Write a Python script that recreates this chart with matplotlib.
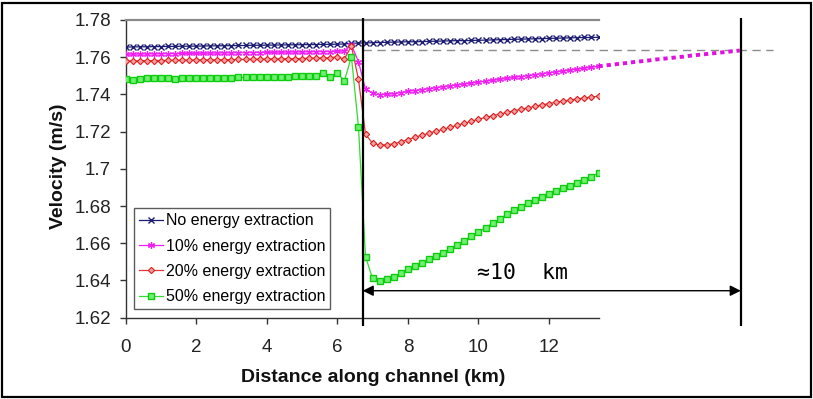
import numpy as np
import matplotlib
matplotlib.use("Agg")
import matplotlib.pyplot as plt
from matplotlib.patches import Rectangle

# ---------------- data ----------------
distance_km = [round(0.2 * i, 1) for i in range(68)]  # 0.0 ... 13.4 km

no_extraction = [
    1.7655, 1.7655, 1.7656, 1.7656, 1.7657, 1.7657, 1.7658, 1.7658, 1.7659, 1.7659,
    1.7660, 1.7660, 1.7661, 1.7661, 1.7662, 1.7662, 1.7663, 1.7663, 1.7664, 1.7664,
    1.7665, 1.7665, 1.7666, 1.7666, 1.7667, 1.7667, 1.7668, 1.7668, 1.7669, 1.7669,
    1.7670, 1.7671, 1.7675, 1.7676, 1.7677, 1.7678, 1.7679, 1.7680, 1.7681, 1.7682,
    1.7683, 1.7683, 1.7684, 1.7685, 1.7686, 1.7687, 1.7688, 1.7689, 1.7689, 1.7690,
    1.7691, 1.7692, 1.7693, 1.7694, 1.7695, 1.7696, 1.7697, 1.7698, 1.7699, 1.7700,
    1.7701, 1.7702, 1.7703, 1.7704, 1.7705, 1.7706, 1.7706, 1.7707]

extraction_10 = [
    1.7616, 1.7616, 1.7617, 1.7617, 1.7618, 1.7618, 1.7619, 1.7619, 1.7620, 1.7620,
    1.7621, 1.7621, 1.7622, 1.7622, 1.7623, 1.7623, 1.7624, 1.7624, 1.7625, 1.7625,
    1.7626, 1.7626, 1.7627, 1.7627, 1.7628, 1.7628, 1.7629, 1.7629, 1.7630, 1.7630,
    1.7631, 1.7634, 1.7666, 1.7576, 1.7427, 1.7406, 1.7399, 1.7400, 1.7404, 1.7410,
    1.7416, 1.7421, 1.7426, 1.7431, 1.7436, 1.7441, 1.7446, 1.7451, 1.7456, 1.7461,
    1.7466, 1.7471, 1.7476, 1.7481, 1.7486, 1.7491, 1.7496, 1.7501, 1.7506, 1.7511,
    1.7516, 1.7521, 1.7526, 1.7531, 1.7536, 1.7541, 1.7546, 1.7551]

extraction_20 = [
    1.7580, 1.7580, 1.7581, 1.7581, 1.7582, 1.7582, 1.7583, 1.7583, 1.7584, 1.7584,
    1.7585, 1.7585, 1.7586, 1.7586, 1.7587, 1.7587, 1.7588, 1.7588, 1.7589, 1.7589,
    1.7590, 1.7591, 1.7591, 1.7592, 1.7592, 1.7593, 1.7594, 1.7595, 1.7596, 1.7597,
    1.7602, 1.7590, 1.7660, 1.7481, 1.7186, 1.7137, 1.7128, 1.7129, 1.7135, 1.7145,
    1.7157, 1.7170, 1.7181, 1.7192, 1.7203, 1.7213, 1.7224, 1.7235, 1.7245, 1.7256,
    1.7267, 1.7276, 1.7285, 1.7294, 1.7303, 1.7312, 1.7320, 1.7328, 1.7336, 1.7344,
    1.7351, 1.7358, 1.7364, 1.7370, 1.7376, 1.7381, 1.7386, 1.7391]

extraction_50 = [
    1.7481, 1.7480, 1.7485, 1.7486, 1.7486, 1.7486, 1.7486, 1.7484, 1.7487, 1.7488,
    1.7488, 1.7489, 1.7489, 1.7490, 1.7490, 1.7490, 1.7491, 1.7491, 1.7491, 1.7492,
    1.7494, 1.7494, 1.7495, 1.7495, 1.7498, 1.7498, 1.7498, 1.7500, 1.7513, 1.7495,
    1.7517, 1.7472, 1.7603, 1.7226, 1.6527, 1.6411, 1.6398, 1.6406, 1.6420, 1.6438,
    1.6460, 1.6477, 1.6495, 1.6513, 1.6531, 1.6549, 1.6570, 1.6592, 1.6614, 1.6637,
    1.6660, 1.6684, 1.6708, 1.6731, 1.6755, 1.6778, 1.6797, 1.6815, 1.6832, 1.6849,
    1.6865, 1.6880, 1.6895, 1.6910, 1.6925, 1.6940, 1.6958, 1.6978]

# dotted extrapolation of the 10% series
ext_distance_km = [round(13.4 + 0.2 * i, 1) for i in range(21)]
ext_extraction_10 = [
    1.7551, 1.7556, 1.7560, 1.7565, 1.7569, 1.7574, 1.7578, 1.7582, 1.7587, 1.7591,
    1.7595, 1.7599, 1.7603, 1.7608, 1.7612, 1.7616, 1.7620, 1.7624, 1.7628, 1.7632,
    1.7636]

series_labels = ["No energy extraction", "10% energy extraction",
                 "20% energy extraction", "50% energy extraction"]

y_ticks = [1.62, 1.64, 1.66, 1.68, 1.70, 1.72, 1.74, 1.76, 1.78]
y_tick_labels = ["1.62", "1.64", "1.66", "1.68", "1.7", "1.72", "1.74", "1.76", "1.78"]
x_ticks = [0, 2, 4, 6, 8, 10, 12]
x_tick_labels = ["0", "2", "4", "6", "8", "10", "12"]

turbine_km = 6.72        # start of the recovery region
recovery_end_km = 17.43  # end of the ~10 km recovery
undisturbed_velocity = 1.7637
dashed_end_km = 18.34
arrow_velocity = 1.6345
annotation_text = "\u224810  km"

# ---------------- figure ----------------
W, H = 813, 399
fig = plt.figure(figsize=(W / 100, H / 100), dpi=100)
ax_left, ax_right = 125.5, 598.5
ax_top, ax_bottom = 20.0, 317.7
ax = fig.add_axes([ax_left / W, 1 - ax_bottom / H,
                   (ax_right - ax_left) / W, (ax_bottom - ax_top) / H])

font = "Liberation Sans"

ax.plot(distance_km, no_extraction, color="#1c1c72", lw=0.9, marker="x",
        ms=4, mew=1.0, label=series_labels[0], zorder=3)
ax.plot(distance_km, extraction_10, color="#f020f0", lw=0.9, marker=(6, 2, 0),
        ms=5, mew=0.9, label=series_labels[1], zorder=3)
ax.plot(distance_km, extraction_20, color="#e03838", lw=0.9, marker="D",
        ms=3.2, mew=0.8, mfc="#f6a0a0", mec="#d82020", label=series_labels[2], zorder=3)
ax.plot(distance_km, extraction_50, color="#30dd30", lw=0.9, marker="s",
        ms=4.0, mew=1.0, mfc="#70f070", mec="#10cc10", label=series_labels[3], zorder=3)

# dotted extension of the 10% series
ax.plot(ext_distance_km, ext_extraction_10, color="#e010e0", lw=2.8,
        ls=(0, (1.1, 1.0)), dash_capstyle="butt", clip_on=False, zorder=3)

# dashed reference line
ax.plot([turbine_km, dashed_end_km], [undisturbed_velocity, undisturbed_velocity],
        color="#8c8c8c", lw=1.0, ls=(0, (6, 4)), clip_on=False, zorder=2)

# vertical lines
for xv in (turbine_km, recovery_end_km):
    ax.plot([xv, xv], [1.6155, 1.7810], color="black", lw=1.6,
            clip_on=False, zorder=5, solid_capstyle="butt")

# double-headed arrow
ax.annotate("", xy=(recovery_end_km, arrow_velocity), xytext=(turbine_km, arrow_velocity),
            arrowprops=dict(arrowstyle="<|-|>", color="black", lw=1.0,
                            mutation_scale=16, shrinkA=0, shrinkB=0),
            annotation_clip=False, zorder=6)
ax.text(11.26, 1.6442, annotation_text, ha="center", va="center",
        fontsize=15.5, family=["DejaVu Sans Mono"], color="black", zorder=6)

ax.set_xlim(0, 13.4)
ax.set_ylim(1.62, 1.78)
ax.set_xticks(x_ticks)
ax.set_xticklabels(x_tick_labels, family=font, fontsize=13.5, color="#222222")
ax.set_yticks(y_ticks)
ax.set_yticklabels(y_tick_labels, family=font, fontsize=13.5, color="#222222")
ax.tick_params(axis="y", direction="out", length=4.5, width=1.0, color="#333333", pad=6.0)
ax.tick_params(axis="x", direction="out", length=4.5, width=1.0, color="#333333", pad=10.5)

for s in ("left", "bottom"):
    ax.spines[s].set_color("#333333")
    ax.spines[s].set_linewidth(1.0)
ax.spines["right"].set_visible(False)
ax.spines["top"].set_color("#8a8a8a")
ax.spines["top"].set_linewidth(1.6)

leg = ax.legend(loc="lower left", bbox_to_anchor=(0.018, 0.029), borderaxespad=0,
                prop={"family": font, "size": 11.5}, frameon=True, fancybox=False,
                handlelength=1.5, handletextpad=0.2, labelspacing=0.65,
                borderpad=0.3)
leg.get_frame().set_edgecolor("#333333")
leg.get_frame().set_linewidth(1.0)

fig.text(373 / W, 1 - 378 / H, "Distance along channel (km)", ha="center", va="center",
         fontsize=14, fontweight="bold", family=font, color="#111111")
fig.text(58 / W, 1 - 166 / H, "Velocity (m/s)", ha="center", va="center",
         rotation=90, fontsize=14, fontweight="bold", family=font, color="#111111")

# outer frame
fig.patches.append(Rectangle((2 / W, 2.5 / H), 808.5 / W, 394 / H, transform=fig.transFigure,
                             fill=False, edgecolor="black", lw=1.6))

fig.savefig("out.png", dpi=100)
